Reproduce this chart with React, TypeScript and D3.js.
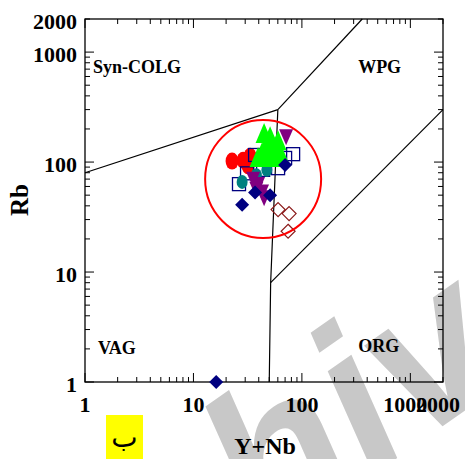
import React from "react";
import * as d3 from "d3";

const redCircles: [number, number][] = [[22.7, 102], [28.7, 104], [33.3, 113], [31.9, 92]];
const greenTriangles: [number, number][] = [
  [44.8, 184], [50.9, 172], [46.7, 143], [53.1, 140], [60.3, 158], [56.6, 129],
  [42.9, 123], [62.9, 123], [39.4, 111], [48.8, 111], [58, 111],
];
const purpleTriangles: [number, number][] = [[71.5, 168], [35.5, 69], [39.4, 62], [42.9, 53], [44.8, 47], [38, 56]];
const navySquares: [number, number][] = [[37, 116], [31.2, 79], [26.3, 63], [43.9, 85], [60.3, 88], [70, 109], [83, 118]];
const tealCircles: [number, number][] = [[28.1, 66], [38, 76], [47.5, 85]];
const navyDiamonds: [number, number][] = [[28.1, 41], [37, 53], [50.9, 50], [70, 94], [16.2, 1]];
const brownDiamonds: [number, number][] = [[60.3, 37], [76.2, 34], [74.6, 23.5]];

const boundaries: [number, number][][] = [
  [[1, 80], [60, 300]],
  [[60, 300], [360, 2000]],
  [[60, 300], [51.5, 8], [50, 1]],
  [[51.5, 8], [2000, 300]],
];
const regionLabels = [
  { text: "Syn-COLG", x: 1.185, y: 640 },
  { text: "WPG", x: 330, y: 650 },
  { text: "VAG", x: 1.32, y: 1.8 },
  { text: "ORG", x: 330, y: 1.87 },
];
const circleCenter: [number, number] = [43.9, 70];
const xTickLabels = [1, 10, 100, 1000, 2000];
const yTickLabels = [1, 10, 100, 1000, 2000];

const W = 465, H = 459;
const L = 85, R = 443, T = 19, B = 382;

export default function App() {
  const x = d3.scaleLog().domain([1, 2000]).range([L, R]);
  const y = d3.scaleLog().domain([1, 2000]).range([B, T]);
  const line = d3.line<[number, number]>().x((d) => x(d[0])).y((d) => y(d[1]));

  const minor: number[] = [];
  for (let e = 0; e <= 3; e++) for (let m = 1; m <= 9; m++) {
    const v = m * Math.pow(10, e);
    if (v <= 2000) minor.push(v);
  }
  const isMajor = (v: number) => [1, 10, 100, 1000].includes(v);
  const serif = "'Liberation Serif', 'Times New Roman', serif";
  const navy = "#000080";

  const tri = (cx: number, cy: number, w: number, h: number, up: boolean) =>
    up
      ? `M${cx},${cy - h / 2}L${cx + w / 2},${cy + h / 2}L${cx - w / 2},${cy + h / 2}Z`
      : `M${cx},${cy + h / 2}L${cx + w / 2},${cy - h / 2}L${cx - w / 2},${cy - h / 2}Z`;
  const dia = (cx: number, cy: number, r: number) =>
    `M${cx},${cy - r}L${cx + r},${cy}L${cx},${cy + r}L${cx - r},${cy}Z`;

  return (
    <svg width={W} height={H} style={{ display: "block", position: "absolute", left: 0, top: 0, background: "#fff" }}>
      <rect width={W} height={H} fill="#fff" />
      {/* watermark */}
      <text
        transform="translate(170,617) rotate(-35)"
        fontFamily="'Liberation Sans', Arial, sans-serif"
        fontStyle="italic"
        fontWeight="bold"
        fontSize={210}
        fill="#c8c8c8"
      >
        chive
      </text>

      {/* yellow label */}
      <rect x={106} y={415} width={37} height={44} fill="#ffff00" />
      <text x={124.5} y={447} textAnchor="middle" fontFamily="'DejaVu Serif', 'DejaVu Sans', serif" fontSize={28} fill="#000">ب</text>

      {/* frame */}
      <rect x={L} y={T} width={R - L} height={B - T} fill="none" stroke="#000" strokeWidth={1.3} />

      {/* ticks */}
      {minor.map((v) => {
        const len = isMajor(v) ? 9 : 5;
        const px = x(v), py = y(v);
        return (
          <g key={"t" + v} stroke="#000" strokeWidth={1}>
            <line x1={px} x2={px} y1={B} y2={B - len} />
            <line x1={px} x2={px} y1={T} y2={T + len} />
            <line x1={L} x2={L + len} y1={py} y2={py} />
            <line x1={R} x2={R - len} y1={py} y2={py} />
          </g>
        );
      })}

      {/* tick labels */}
      {xTickLabels.map((v) => (
        <text key={"xl" + v} x={x(v) + (v >= 1000 ? -5 : 0)} y={B + 30} textAnchor="middle"
          fontFamily={serif} fontWeight="bold" fontSize={22}>{v}</text>
      ))}
      {yTickLabels.map((v) => (
        <text key={"yl" + v} x={L - 8} y={y(v) + 9.5} textAnchor="end"
          fontFamily={serif} fontWeight="bold" fontSize={22}>{v}</text>
      ))}

      {/* axis titles */}
      <text x={265} y={454} textAnchor="middle" fontFamily={serif} fontWeight="bold" fontSize={24}>Y+Nb</text>
      <text transform="translate(28,200) rotate(-90)" textAnchor="middle" fontFamily={serif} fontWeight="bold" fontSize={25}>Rb</text>

      {/* boundaries */}
      {boundaries.map((b, i) => (
        <path key={"b" + i} d={line(b) || ""} fill="none" stroke="#000" strokeWidth={1.2} />
      ))}

      {/* region labels */}
      {regionLabels.map((r) => (
        <text key={r.text} x={x(r.x)} y={y(r.y)} fontFamily={serif} fontWeight="bold" fontSize={18}>{r.text}</text>
      ))}

      {/* data */}
      {redCircles.map((d, i) => (
        <ellipse key={"rc" + i} cx={x(d[0])} cy={y(d[1])} rx={6.5} ry={8.5} fill="#ff0000" />
      ))}
      {navySquares.map((d, i) => (
        <rect key={"sq" + i} x={x(d[0]) - 6.5} y={y(d[1]) - 6.5} width={13} height={13} fill="none" stroke={navy} strokeWidth={1.3} />
      ))}
      {tealCircles.map((d, i) => (
        <ellipse key={"tc" + i} cx={x(d[0])} cy={y(d[1])} rx={5.5} ry={7} fill="#008080" />
      ))}
      {purpleTriangles.map((d, i) => (
        <path key={"pt" + i} d={tri(x(d[0]), y(d[1]), 14, 16, false)} fill="#800080" />
      ))}
      {greenTriangles.map((d, i) => (
        <path key={"gt" + i} d={tri(x(d[0]), y(d[1]), 17, 20, true)} fill="#00ff00" />
      ))}
      {navyDiamonds.map((d, i) => (
        <path key={"nd" + i} d={dia(x(d[0]), y(d[1]), 7)} fill={navy} />
      ))}
      {brownDiamonds.map((d, i) => (
        <path key={"bd" + i} d={dia(x(d[0]), y(d[1]), 7)} fill="none" stroke="#8b1a1a" strokeWidth={1.2} />
      ))}

      {/* red circle */}
      <ellipse cx={x(circleCenter[0])} cy={y(circleCenter[1])} rx={58} ry={59} fill="none" stroke="#ff0000" strokeWidth={2} />
    </svg>
  );
}
